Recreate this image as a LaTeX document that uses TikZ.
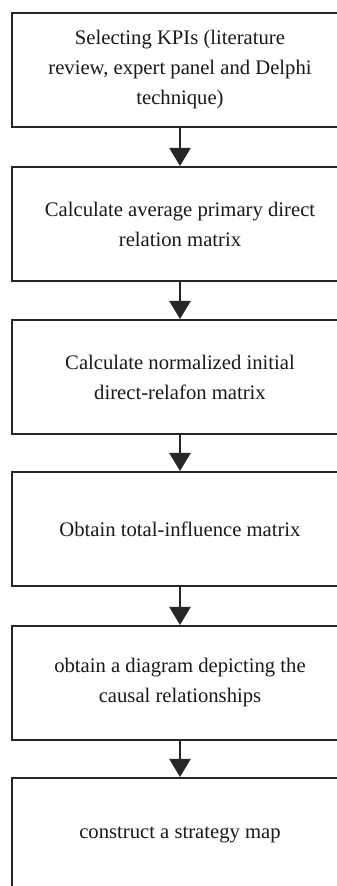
\documentclass[tikz,border=0pt]{standalone}
\usepackage{fontspec}
\setmainfont{Liberation Serif}
\usetikzlibrary{arrows.meta}

\tikzset{
  stage/.style={draw=black!85,line width=1.6pt,minimum width=252pt,minimum height=85.5pt,
    align=center,font=\fontsize{15.5}{22.5}\selectfont,text=black!90},
  flow/.style={draw=black!85,line width=1pt,-{Triangle[width=16pt,length=13.5pt]}}
}

\begin{document}
\begin{tikzpicture}[x=0.75pt,y=-0.75pt]
  \useasboundingbox[fill=white] (0,0) rectangle (336,886);

  \node[stage] (s1) at (180,70) {Selecting KPIs (literature\\review, expert panel and Delphi\\technique)};
  \node[stage] (s2) at (180,224) {Calculate average primary direct\\relation matrix};
  \node[stage] (s3) at (180,377) {Calculate normalized initial\\direct-relafon matrix};
  \node[stage] (s4) at (180,529) {Obtain total-influence matrix};
  \node[stage] (s5) at (180,683) {obtain a diagram depicting the\\causal relationships};
  \node[stage] (s6) at (180,835) {construct a strategy map};

  \draw[flow] (s1) -- (s2);
  \draw[flow] (s2) -- (s3);
  \draw[flow] (s3) -- (s4);
  \draw[flow] (s4) -- (s5);
  \draw[flow] (s5) -- (s6);
\end{tikzpicture}
\end{document}
